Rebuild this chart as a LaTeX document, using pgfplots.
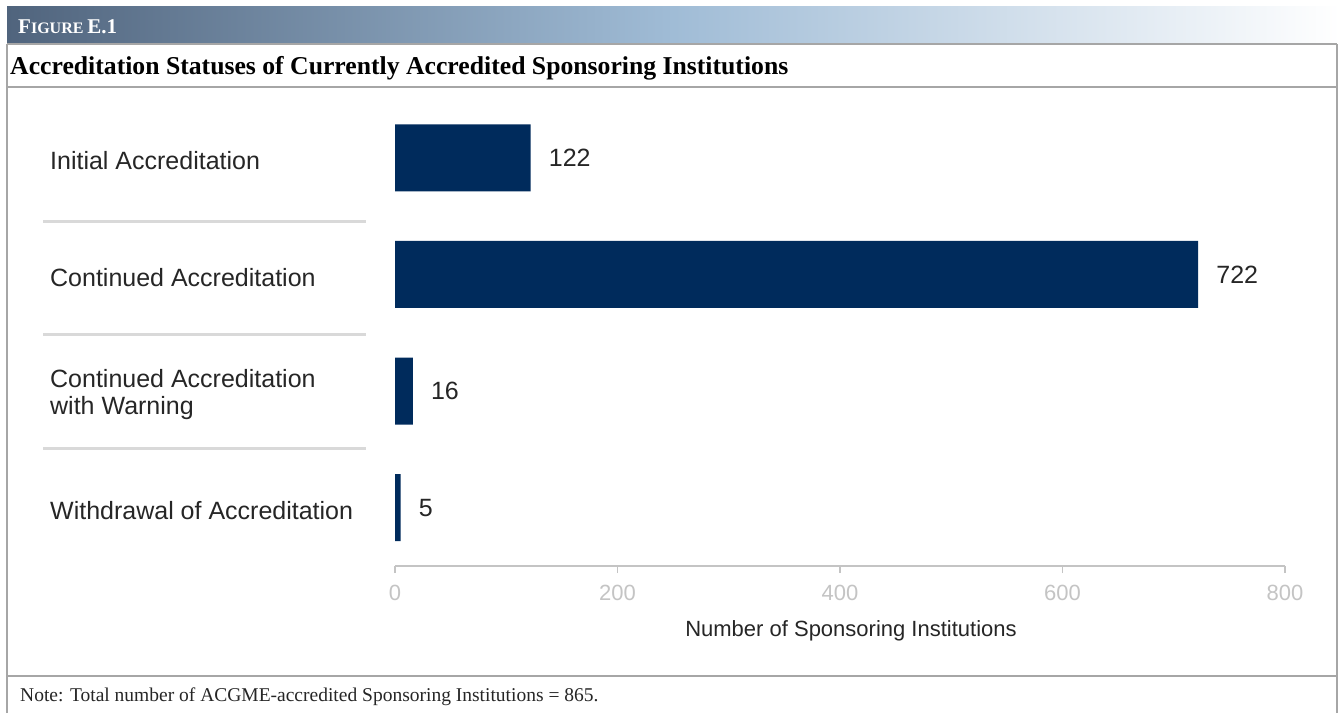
\documentclass[border=0pt]{standalone}
\usepackage{fontspec}
\setmainfont{Liberation Sans}
\newfontfamily\serif{Liberation Serif}
\usepackage{pgfplots}
\pgfplotsset{compat=1.18}
\definecolor{barblue}{HTML}{002B5C}
\definecolor{txt}{HTML}{262626}
\definecolor{tickgray}{HTML}{C4C4C4}
\definecolor{sepgray}{HTML}{D9D9D9}
\definecolor{boxgray}{HTML}{A6A6A6}
\definecolor{bandL}{RGB}{80,100,125}
\definecolor{bandM}{RGB}{160,188,214}
\begin{document}
\begin{tikzpicture}[x=1pt,y=1pt]
\useasboundingbox (0,0) rectangle (1340,713);
\fill[white] (0,0) rectangle (1340,713);
\shade[left color=bandL, right color=white, middle color=bandM] (7,669) rectangle (1340,706);
\draw[boxgray, line width=1.5pt] (7,669) -- (1337,669);
\draw[boxgray, line width=1.5pt] (7,626) -- (1337,626);
\draw[boxgray, line width=1.5pt] (7,37) -- (1337,37);
\draw[boxgray, line width=1.5pt] (7,0) -- (7,669);
\draw[boxgray, line width=1.5pt] (1337,0) -- (1337,669);
\node[anchor=west, text=white, inner sep=0pt, font=\serif\bfseries] at (18,686)
  {\fontsize{21}{24}\selectfont F\fontsize{16}{18}\selectfont IGURE \fontsize{21}{24}\selectfont E.1};
\node[anchor=west, inner sep=0pt, font=\serif\bfseries\fontsize{25.7}{29}\selectfont, text=black] at (10,645)
  {Accreditation Statuses of Currently Accredited Sponsoring Institutions};
\node[anchor=west, inner sep=0pt, font=\serif\fontsize{19.5}{23}\selectfont, text=txt] at (20,16)
  {Note: Total number of ACGME-accredited Sponsoring Institutions = 865.};
\begin{axis}[
  at={(395pt,147pt)}, anchor=south west,
  scale only axis, width=890pt, height=466.5pt,
  xbar, bar width=67pt,
  xmin=0, xmax=800, ymin=-0.5, ymax=3.5,
  axis x line*=bottom, axis y line*=left,
  x axis line style={draw=tickgray, line width=1.5pt, -},
  y axis line style={draw=none, -},
  xtick={0,200,400,600,800},
  major x tick style={draw=tickgray, line width=1.2pt},
  tick align=outside, major tick length=7pt,
  ytick={0,1,2,3}, major y tick style={draw=none},
  yticklabels={{Withdrawal of Accreditation},{Continued Accreditation\\with Warning},{Continued Accreditation},{Initial Accreditation}},
  yticklabel style={anchor=west, align=left, inner sep=0pt, xshift=-338pt, yshift=-3pt, font=\fontsize{25}{27}\selectfont, text=txt},
  xticklabel style={font=\fontsize{22}{26}\selectfont, text=tickgray, yshift=-9pt},
  /pgf/number format/assume math mode=true,
  xlabel={Number of Sponsoring Institutions},
  xlabel style={font=\fontsize{22}{26}\selectfont, text=txt, yshift=-13pt, xshift=11pt},
  point meta=x,
  nodes near coords,
  nodes near coords style={anchor=west, inner sep=0pt, xshift=18pt, font=\fontsize{25}{30}\selectfont, text=txt},
]
\addplot[fill=barblue, draw=none] coordinates {(5,0) (16,1) (722,2) (122,3)};
\end{axis}
\draw[sepgray, line width=3pt] (43,491) -- (366,491);
\draw[sepgray, line width=3pt] (43,378) -- (366,378);
\draw[sepgray, line width=3pt] (43,265) -- (366,265);
\end{tikzpicture}
\end{document}
